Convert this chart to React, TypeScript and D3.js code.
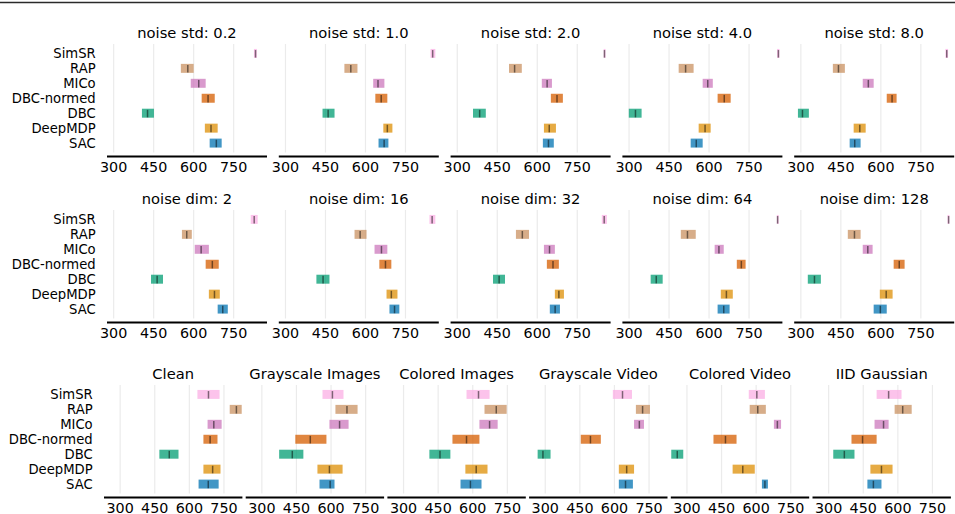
import React from "react";
import * as d3 from "d3";

// ---------- data ----------
const algorithms = ["SimSR", "RAP", "MICo", "DBC-normed", "DBC", "DeepMDP", "SAC"];
const algColors = ["#fbafe4", "#ca9161", "#cc78bc", "#d55e00", "#029e73", "#de8f05", "#0173b2"];
const xTicks = [300, 450, 600, 750];

// each entry: [lower CI, point estimate, upper CI] in algorithm order
const noiseStdTitles = ["noise std: 0.2", "noise std: 1.0", "noise std: 2.0", "noise std: 4.0", "noise std: 8.0"];
const noiseStd02 = [[826, 832, 837], [552, 578, 600], [589, 619, 645], [630, 654, 679], [406, 427, 451], [642, 665, 690], [660, 685, 705]];
const noiseStd10 = [[844, 852, 862], [521, 545, 570], [629, 647, 671], [637, 659, 682], [439, 460, 484], [667, 682, 701], [649, 670, 686]];
const noiseStd20 = [[849, 852, 856], [494, 515, 542], [617, 637, 655], [651, 674, 696], [359, 384, 407], [625, 645, 670], [621, 642, 662]];
const noiseStd40 = [[855, 860, 864], [486, 512, 542], [576, 595, 614], [632, 657, 681], [299, 324, 347], [561, 585, 606], [531, 552, 576]];
const noiseStd80 = [[842, 847, 852], [420, 441, 465], [532, 553, 573], [622, 642, 659], [289, 306, 330], [498, 521, 543], [483, 502, 524]];

const noiseDimTitles = ["noise dim: 2", "noise dim: 16", "noise dim: 32", "noise dim: 64", "noise dim: 128"];
const noiseDim2 = [[814, 827, 840], [556, 574, 593], [604, 628, 657], [645, 670, 694], [440, 463, 485], [657, 678, 698], [690, 709, 728]];
const noiseDim16 = [[840, 850, 862], [559, 580, 604], [634, 660, 682], [652, 675, 697], [416, 441, 465], [679, 697, 720], [690, 709, 727]];
const noiseDim32 = [[842, 851, 861], [520, 544, 569], [625, 646, 666], [636, 659, 681], [434, 457, 479], [666, 681, 700], [647, 667, 685]];
const noiseDim64 = [[854, 857, 861], [494, 519, 550], [621, 637, 655], [704, 721, 737], [381, 402, 426], [644, 665, 689], [632, 655, 677]];
const noiseDim128 = [[850, 854, 857], [476, 501, 524], [532, 551, 569], [648, 669, 689], [326, 351, 375], [596, 620, 644], [573, 598, 622]];

const distractorTitles = ["Clean", "Grayscale Images", "Colored Images", "Grayscale Video", "Colored Video", "IID Gaussian"];
const clean = [[635, 683, 731], [775, 804, 827], [679, 706, 740], [661, 690, 722], [470, 513, 553], [661, 701, 735], [640, 682, 727]];
const grayscaleImages = [[563, 606, 654], [619, 669, 715], [593, 637, 676], [445, 510, 580], [375, 432, 480], [541, 593, 650], [550, 596, 615]];
const coloredImages = [[573, 625, 673], [651, 702, 747], [629, 673, 708], [512, 573, 629], [412, 458, 503], [568, 615, 664], [547, 590, 638]];
const grayscaleVideo = [[593, 635, 676], [693, 722, 754], [685, 708, 728], [454, 496, 541], [267, 290, 323], [619, 653, 685], [619, 648, 680]];
const coloredVideo = [[568, 603, 638], [572, 607, 642], [677, 692, 708], [415, 467, 515], [232, 258, 284], [498, 542, 594], [625, 638, 651]];
const iidGaussian = [[508, 560, 616], [586, 621, 660], [499, 538, 560], [399, 447, 508], [320, 368, 412], [481, 529, 577], [468, 494, 529]];

// ---------- layout ----------
const W = 955;
const H = 514;
const FONT = "DejaVu Sans";
const TEXT = "#000";

const rows = [
  { titles: noiseStdTitles, data: [noiseStd02, noiseStd10, noiseStd20, noiseStd40, noiseStd80], top: 44, left0: 107, stride: 171.8, width: 160, domain: [275, 875] },
  { titles: noiseDimTitles, data: [noiseDim2, noiseDim16, noiseDim32, noiseDim64, noiseDim128], top: 210, left0: 107, stride: 171.8, width: 160, domain: [275, 875] },
  { titles: distractorTitles, data: [clean, grayscaleImages, coloredImages, grayscaleVideo, coloredVideo, iidGaussian], top: 385, left0: 104, stride: 141.7, width: 138.4, domain: [230, 830] },
];
const AX_H = 108.5;

function Panel({ title, data, left, top, width, domain, showY }) {
  const x = d3.scaleLinear().domain(domain).range([left, left + width]);
  const y = d3.scaleLinear().domain([-0.63, algorithms.length - 1 + 0.63]).range([top, top + AX_H]);
  const spineY = top + AX_H + 3.9;
  return (
    <g>
      {xTicks.map((t) => (
        <line key={"g" + t} x1={x(t)} x2={x(t)} y1={top} y2={top + AX_H} stroke="#ebebeb" strokeWidth={1.2} />
      ))}
      {data.map((d, i) => (
        <g key={i}>
          <rect x={x(d[0])} width={x(d[2]) - x(d[0])} y={y(i - 0.3)} height={y(i + 0.3) - y(i - 0.3)} fill={algColors[i]} fillOpacity={0.75} />
          <line x1={x(d[1])} x2={x(d[1])} y1={y(i - 0.225)} y2={y(i + 0.28)} stroke="#000" strokeOpacity={0.5} strokeWidth={1.5} />
        </g>
      ))}
      {showY &&
        algorithms.map((a, i) => (
          <text key={a} x={left - 11.3} y={y(i) + 4.8} textAnchor="end" fontSize={13.2} fontFamily={FONT} fill={TEXT}>
            {a}
          </text>
        ))}
      <line x1={left} x2={left + width} y1={spineY} y2={spineY} stroke="#000" strokeWidth={2} />
      {xTicks.map((t) => (
        <text key={"t" + t} x={x(t)} y={spineY + 15.3} textAnchor="middle" fontSize={14.3} fontFamily={FONT} fill={TEXT}>
          {t}
        </text>
      ))}
      <text x={left + width / 2} y={top - 5.6} textAnchor="middle" fontSize={14.7} fontFamily={FONT} fill={TEXT}>
        {title}
      </text>
    </g>
  );
}

export default function App() {
  return (
    <svg width={W} height={H} style={{ position: "absolute", left: 0, top: 0, background: "#fff" }}>
      <rect x={0} y={0} width={W} height={H} fill="#fff" />
      <line x1={0} x2={W} y1={2.5} y2={2.5} stroke="#2a2a2a" strokeWidth={1.5} />
      {rows.map((r, ri) =>
        r.data.map((d, pi) => (
          <Panel
            key={ri + "-" + pi}
            title={r.titles[pi]}
            data={d}
            left={r.left0 + pi * r.stride}
            top={r.top}
            width={r.width}
            domain={r.domain}
            showY={pi === 0}
          />
        ))
      )}
    </svg>
  );
}
